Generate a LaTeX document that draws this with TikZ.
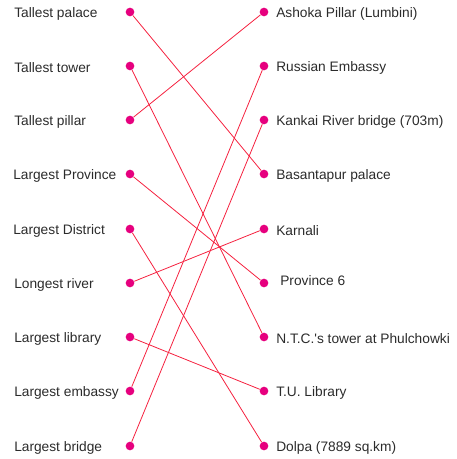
\documentclass[tikz,border=0pt]{standalone}
\usepackage{fontspec}
\setmainfont{Liberation Sans}
\usepackage{xcolor}
\usetikzlibrary{positioning}
\definecolor{mtdot}{HTML}{E6007E}
\definecolor{mtline}{HTML}{F5213F}
\definecolor{mttext}{HTML}{2B2B2B}
\tikzset{
  mtdot/.style={circle,fill=mtdot,inner sep=0pt,minimum size=6.5pt},
  mtlabel/.style={anchor=west,inner sep=0pt,text=mttext,yshift=-1.1pt,
                  font=\fontsize{10.3pt}{12pt}\selectfont},
  mtlink/.style={mtline,line width=0.6pt}
}

\begin{document}
\begin{tikzpicture}[x=0.75pt,y=-0.75pt]
  \useasboundingbox (0,0) rectangle (456,459);

  % left column
  \node[mtlabel] (lt1) at (14,12)  {Tallest palace};
  \node[mtlabel] (lt2) at (14,66)  {Tallest tower};
  \node[mtlabel] (lt3) at (14,120) {Tallest pillar};
  \node[mtlabel] (lt4) at (13,174) {Largest Province};
  \node[mtlabel] (lt5) at (13,229) {Largest District};
  \node[mtlabel] (lt6) at (14,283) {Longest river};
  \node[mtlabel] (lt7) at (14,337) {Largest library};
  \node[mtlabel] (lt8) at (14,391) {Largest embassy};
  \node[mtlabel] (lt9) at (14,446) {Largest bridge};

  \node[mtdot] (l1) at (130,12)  {};
  \node[mtdot] (l2) at (130,66)  {};
  \node[mtdot] (l3) at (130,120) {};
  \node[mtdot] (l4) at (130,174) {};
  \node[mtdot] (l5) at (130,229) {};
  \node[mtdot] (l6) at (130,283) {};
  \node[mtdot] (l7) at (130,337) {};
  \node[mtdot] (l8) at (130,391) {};
  \node[mtdot] (l9) at (130,446) {};

  % right column
  \node[mtdot] (r1) at (264,12)  {};
  \node[mtdot] (r2) at (264,66)  {};
  \node[mtdot] (r3) at (264,120) {};
  \node[mtdot] (r4) at (264,174) {};
  \node[mtdot] (r5) at (264,229) {};
  \node[mtdot] (r6) at (264,283) {};
  \node[mtdot] (r7) at (264,337) {};
  \node[mtdot] (r8) at (264,391) {};
  \node[mtdot] (r9) at (264,446) {};

  \node[mtlabel] (rt1) at (276,12)  {Ashoka Pillar (Lumbini)};
  \node[mtlabel] (rt2) at (276,66)  {Russian Embassy};
  \node[mtlabel] (rt3) at (276,120) {Kankai River bridge (703m)};
  \node[mtlabel] (rt4) at (276,174) {Basantapur palace};
  \node[mtlabel] (rt5) at (276,229) {Karnali};
  \node[mtlabel] (rt6) at (280,279) {Province 6};
  \node[mtlabel] (rt7) at (276,337) {N.T.C.\textquotesingle s tower at Phulchowki};
  \node[mtlabel] (rt8) at (276,391) {T.U. Library};
  \node[mtlabel] (rt9) at (276,446) {Dolpa (7889 sq.km)};

  % matches
  \draw[mtlink] (l1) -- (r4);
  \draw[mtlink] (l2) -- (r7);
  \draw[mtlink] (l3) -- (r1);
  \draw[mtlink] (l4) -- (r6);
  \draw[mtlink] (l5) -- (r9);
  \draw[mtlink] (l6) -- (r5);
  \draw[mtlink] (l7) -- (r8);
  \draw[mtlink] (l8) -- (r2);
  \draw[mtlink] (l9) -- (r3);
\end{tikzpicture}
\end{document}
